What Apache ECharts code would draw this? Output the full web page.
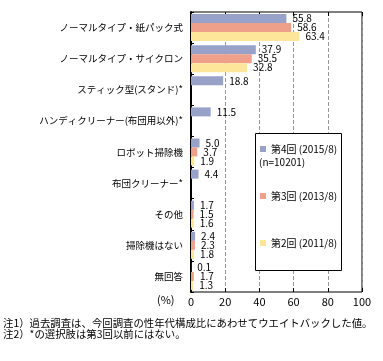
<!DOCTYPE html>
<html>
<head>
<meta charset="utf-8">
<script src="https://cdn.jsdelivr.net/npm/echarts@6/dist/echarts.min.js"></script>
<style>html,body{margin:0;padding:0;background:#fff;}#c{width:383px;height:361px;}</style>
</head>
<body>
<div id="c"></div>
<script>
var categories = [
  'ノーマルタイプ・紙パック式',
  'ノーマルタイプ・サイクロン',
  'スティック型(スタンド)*',
  'ハンディクリーナー(布団用以外)*',
  'ロボット掃除機',
  '布団クリーナー*',
  'その他',
  '掃除機はない',
  '無回答'
];
var seriesNames = ['第4回 (2015/8)', '第3回 (2013/8)', '第2回 (2011/8)'];
var round4 = [55.8, 37.9, 18.8, 11.5, 5.0, 4.4, 1.7, 2.4, 0.1];
var round3 = [58.6, 35.5, null, null, 3.7, null, 1.5, 2.3, 1.7];
var round2 = [63.4, 32.8, null, null, 1.9, null, 1.6, 1.8, 1.3];
var xTicks = [0, 20, 40, 60, 80, 100];
var notes = [
  '注1）過去調査は、今回調査の性年代構成比にあわせてウエイトバックした値。',
  '注2）*の選択肢は第3回以前にはない。'
];

var FONT = '"Noto Sans CJK JP", sans-serif';
var colors = ['#98A2C8', '#EEA08A', '#FDE699'];
var chart = echarts.init(document.getElementById('c'), null, {renderer: 'canvas'});

function mk(name, data, color) {
  return {
    name: name, type: 'bar', data: data, barWidth: 9, barGap: '0%',
    itemStyle: {color: color},
    label: {
      show: true, position: 'right', distance: 6,
      color: '#000', fontSize: 10, fontFamily: FONT,
      formatter: function (p) { return p.value == null ? '' : Number(p.value).toFixed(1); }
    }
  };
}

var option = {
  animation: false,
  textStyle: {fontFamily: FONT},
  grid: {left: 191, top: 12, width: 171, height: 280, show: true, borderColor: '#000', borderWidth: 1, containLabel: false},
  xAxis: [{
    type: 'value', min: xTicks[0], max: xTicks[xTicks.length - 1], interval: 20, position: 'bottom',
    axisLine: {show: false},
    axisTick: {show: true, inside: true, length: 4, lineStyle: {color: '#000'}},
    axisLabel: {color: '#000', fontSize: 11, fontFamily: FONT, margin: 4},
    splitLine: {show: true, lineStyle: {color: '#999', type: 'dashed', width: 1}}
  }, {
    type: 'value', min: xTicks[0], max: xTicks[xTicks.length - 1], interval: 20, position: 'top',
    axisLine: {show: false},
    axisTick: {show: true, inside: true, length: 4, lineStyle: {color: '#000'}},
    axisLabel: {show: false},
    splitLine: {show: false}
  }],
  yAxis: {
    type: 'category', data: categories, inverse: true,
    axisLine: {show: true, lineStyle: {color: '#000', width: 2}},
    axisTick: {show: true, inside: true, length: 3, lineStyle: {color: '#000'}},
    axisLabel: {color: '#000', fontSize: 9.5, fontFamily: FONT, margin: 8}
  },
  legend: {
    orient: 'vertical', left: 255, top: 139, itemWidth: 6, itemHeight: 6, itemGap: 37,
    icon: 'rect', z: 6,
    textStyle: {color: '#000', fontSize: 10, fontFamily: FONT},
    data: seriesNames
  },
  graphic: [
    {type: 'rect', z: 3, shape: {x: 255.5, y: 133.5, width: 86, height: 137}, style: {fill: '#fff', stroke: '#000', lineWidth: 1}},
    {type: 'text', z: 7, left: 259, top: 157, style: {text: '(n=10201)', fill: '#000', font: '10px ' + FONT}},
    {type: 'text', z: 7, left: 157, top: 294, style: {text: '(%)', fill: '#000', font: '11px ' + FONT}},
    {type: 'text', z: 7, left: 3, top: 318, style: {text: notes[0], fill: '#000', font: '10.4px ' + FONT}},
    {type: 'text', z: 7, left: 3, top: 329, style: {text: notes[1], fill: '#000', font: '10.4px ' + FONT}}
  ],
  series: [
    mk(seriesNames[0], round4, colors[0]),
    mk(seriesNames[1], round3, colors[1]),
    mk(seriesNames[2], round2, colors[2])
  ]
};
chart.setOption(option);
</script>
</body>
</html>
